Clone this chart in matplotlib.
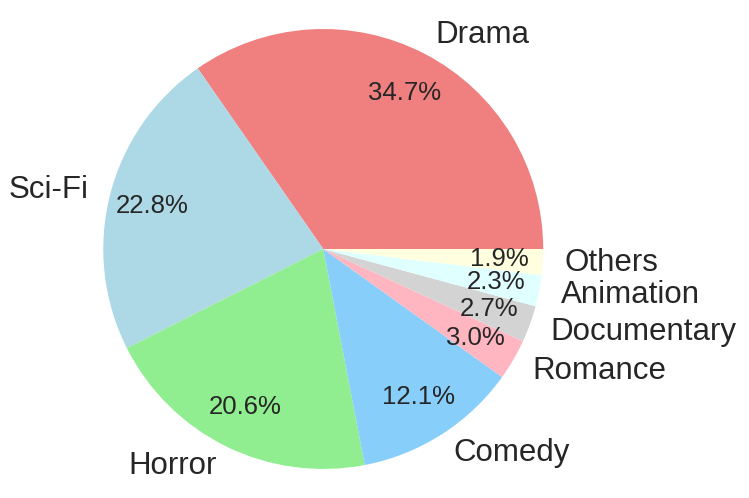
import matplotlib
matplotlib.use("Agg")
import matplotlib.pyplot as plt

genres = ["Drama", "Sci-Fi", "Horror", "Comedy", "Romance", "Documentary", "Animation", "Others"]
shares = [34.7, 22.8, 20.6, 12.1, 3.0, 2.7, 2.3, 1.9]
colors = ["lightcoral", "lightblue", "lightgreen", "lightskyblue",
          "lightpink", "lightgray", "lightcyan", "lightyellow"]

plt.rcParams["font.family"] = ["Liberation Sans", "DejaVu Sans"]

fig = plt.figure(figsize=(7.49, 4.98), dpi=100)
ax = fig.add_axes([0.0, 0.0, 1.0, 1.0])
wedges, texts, autotexts = ax.pie(shares, labels=genres, colors=colors, autopct="%1.1f%%",
                                  startangle=0, pctdistance=0.8, labeldistance=1.1,
                                  radius=1.0, textprops={"fontsize": 22.5, "color": "#262626"})
for t in autotexts:
    t.set_fontsize(18.5)
ax.set_aspect("equal")
ax.set_xlim(-1.469, 1.935)
ax.set_ylim(-1.132, 1.132)
fig.savefig("out.png", dpi=100)
